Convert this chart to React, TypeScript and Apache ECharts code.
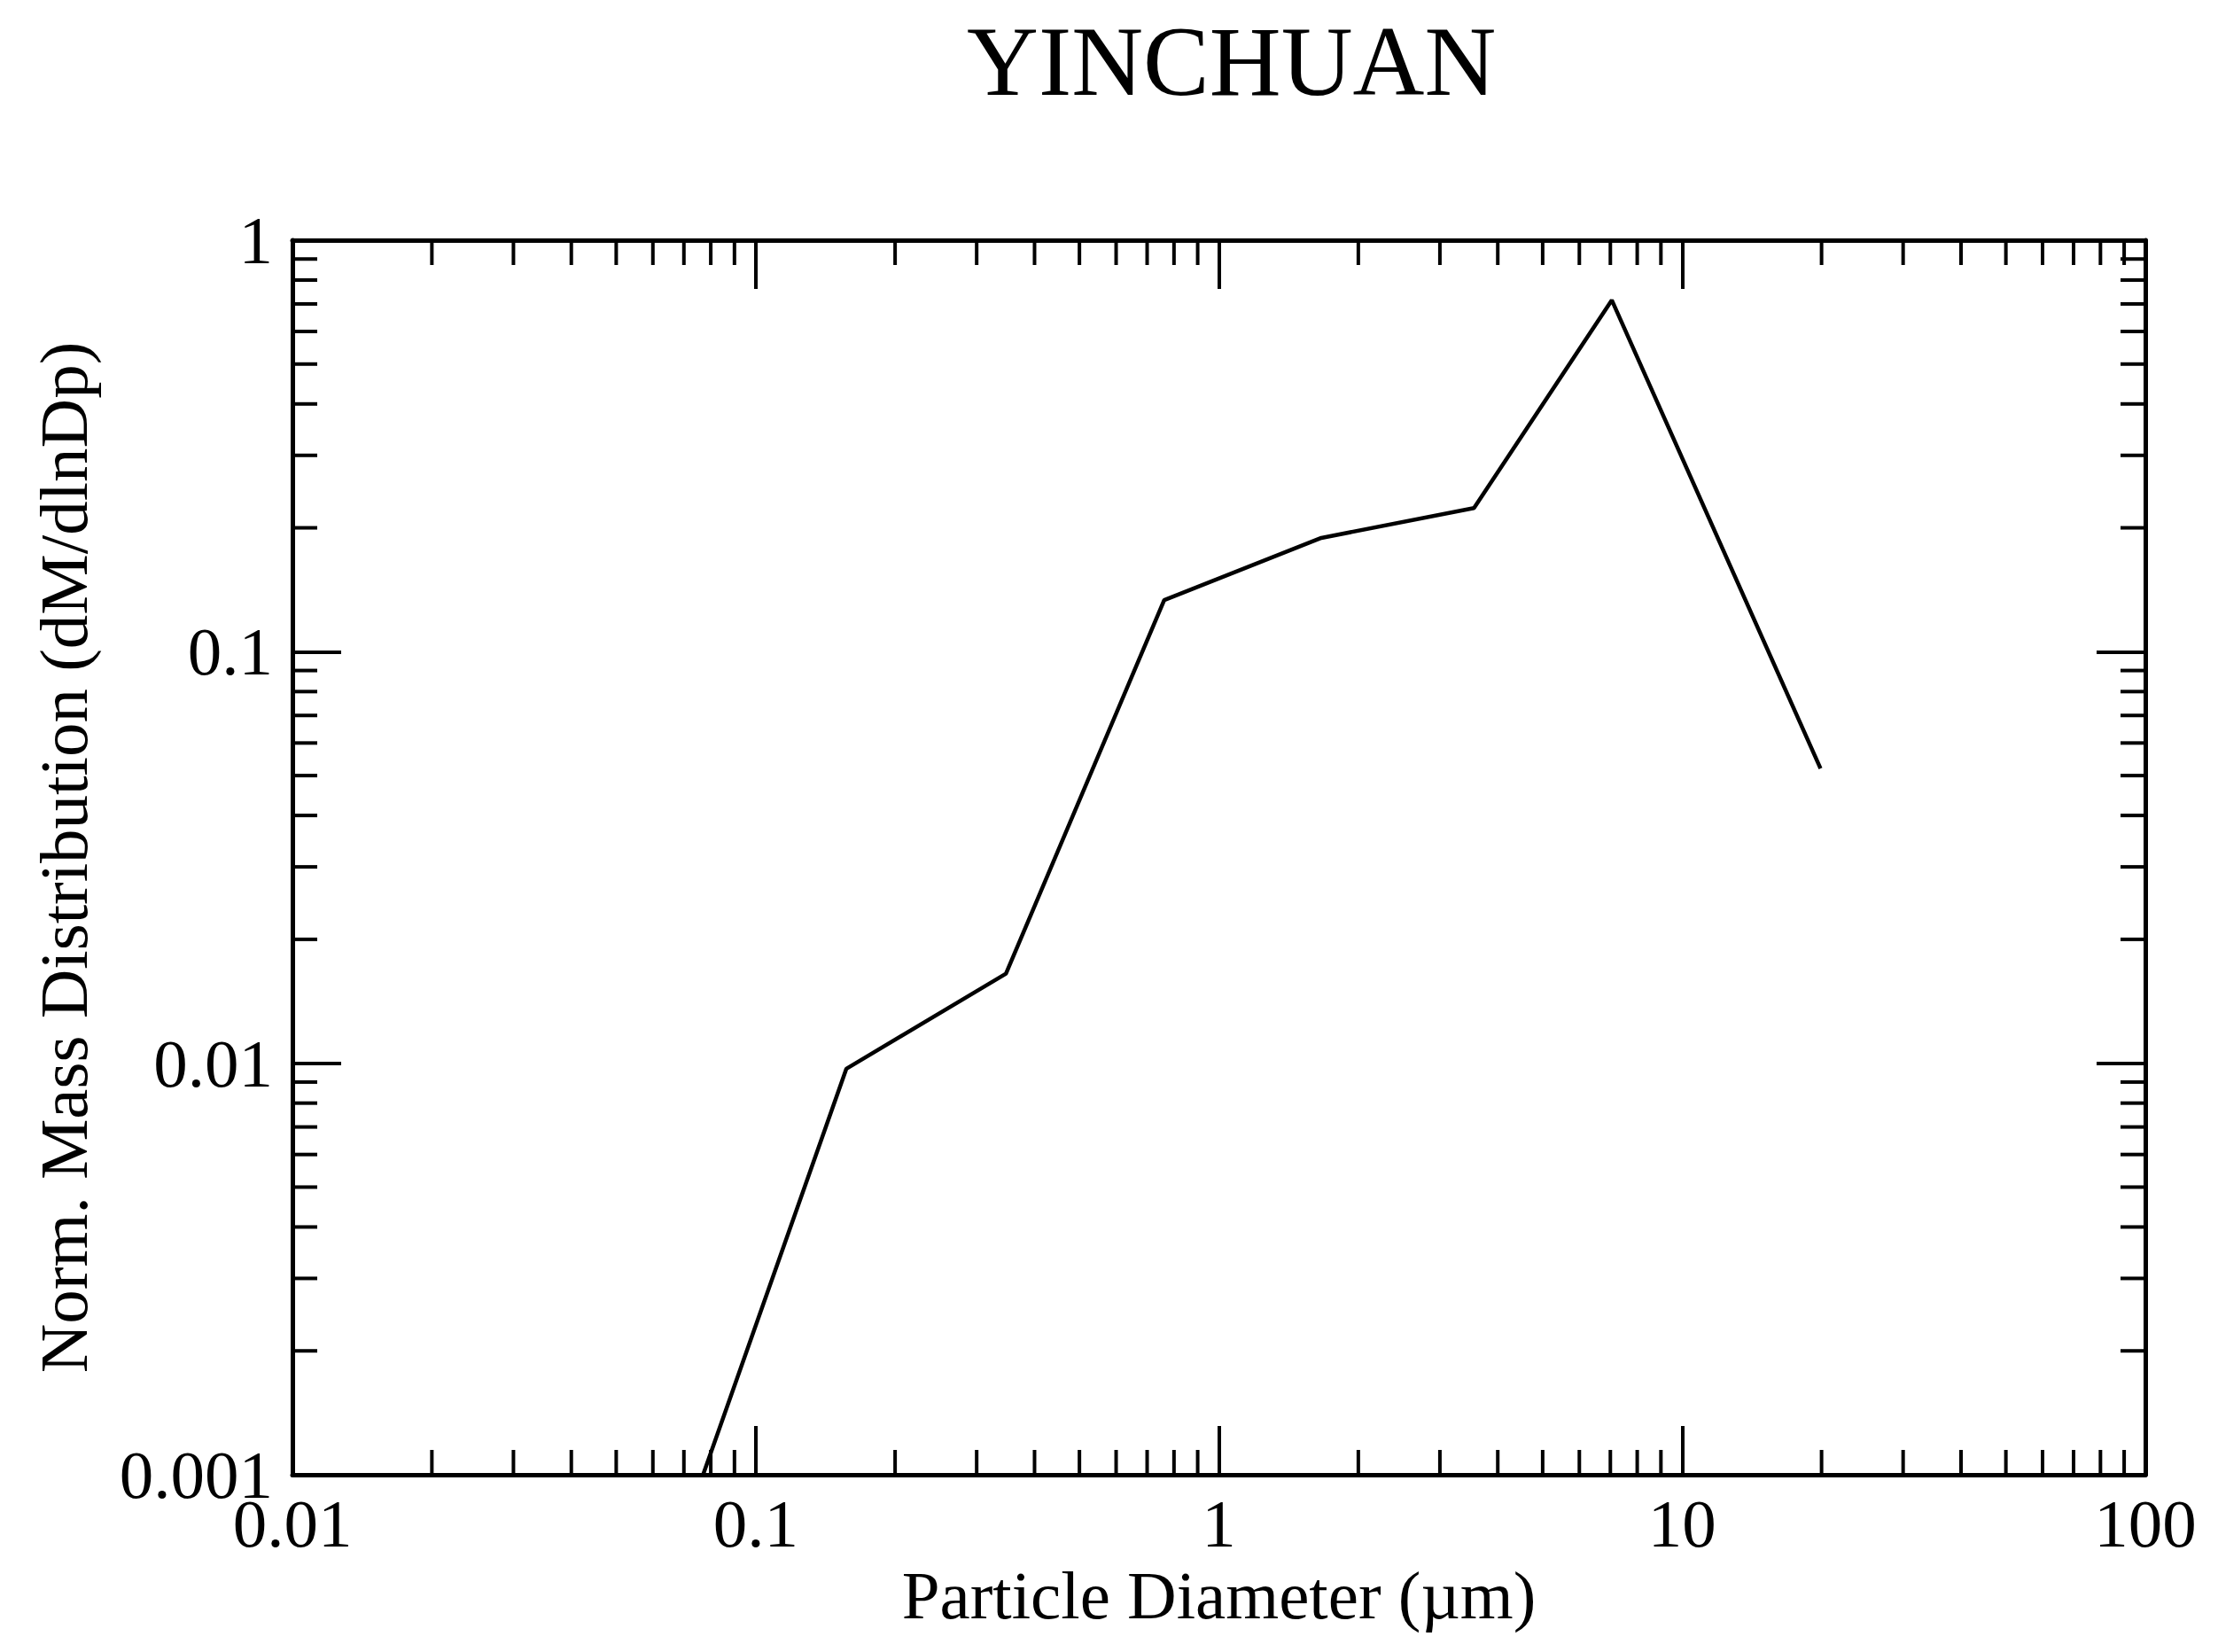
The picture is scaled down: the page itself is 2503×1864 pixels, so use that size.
import React, { useEffect, useRef } from "react";
import * as echarts from "echarts";

const titleText = "YINCHUAN";
const xAxisName = "Particle Diameter (µm)";
const yAxisName = "Norm. Mass Distribution (dM/dlnDp)";

const diameters = [0.077, 0.157, 0.347, 0.762, 1.664, 3.554, 7.05, 19.9];
const massDist = [0.001, 0.0097, 0.0165, 0.1335, 0.189, 0.2233, 0.715, 0.052];

const xMin = 0.01;
const xMax = 100;
const yMin = 0.001;
const yMax = 1;

const xTickLabels = ["0.01", "0.1", "1", "10", "100"];
const yTickLabels = ["0.001", "0.01", "0.1", "1"];

const xMinorTicks = [
  0.02, 0.03, 0.04, 0.05, 0.06, 0.07, 0.08, 0.09,
  0.2, 0.3, 0.4, 0.5, 0.6, 0.7, 0.8, 0.9,
  2, 3, 4, 5, 6, 7, 8, 9,
  20, 30, 40, 50, 60, 70, 80, 90,
];
const yMinorTicks = [
  0.002, 0.003, 0.004, 0.005, 0.006, 0.007, 0.008, 0.009,
  0.02, 0.03, 0.04, 0.05, 0.06, 0.07, 0.08, 0.09,
  0.2, 0.3, 0.4, 0.5, 0.6, 0.7, 0.8, 0.9,
];

const FONT = '"Liberation Serif", "Times New Roman", serif';
const MINOR_LEN = 28;
const MAJOR_LEN = 55;
const TICK_W = 4;

function fmt(labels: string[]) {
  return (v: number) => {
    const found = labels.find((l) => Math.abs(Math.log10(parseFloat(l)) - Math.log10(v)) < 1e-6);
    return found ?? "";
  };
}

export default function App() {
  const ref = useRef<HTMLDivElement>(null);
  useEffect(() => {
    if (!ref.current) return;
    const chart = echarts.init(ref.current, undefined, { renderer: "svg" });
    const axisLine = { show: true, lineStyle: { color: "#000", width: 5 } };
    const majorTick = { show: true, inside: true, length: MAJOR_LEN, lineStyle: { color: "#000", width: TICK_W } };
    chart.setOption({
      animation: false,
      backgroundColor: "#fff",
      title: {
        text: titleText,
        left: 1086,
        top: 8,
        textStyle: { fontFamily: FONT, fontSize: 112, fontWeight: "normal", color: "#000" },
      },
      grid: { left: 330, right: 82, top: 271, bottom: 200 },
      xAxis: [
        {
          type: "log",
          logBase: 10,
          min: xMin,
          max: xMax,
          position: "bottom",
          name: xAxisName,
          nameLocation: "middle",
          nameGap: 96,
          nameTextStyle: { fontFamily: FONT, fontSize: 77, color: "#000" },
          axisLine,
          axisTick: majorTick,
          minorTick: { show: false },
          splitLine: { show: false },
          axisLabel: { fontFamily: FONT, fontSize: 77, color: "#000", margin: 16, formatter: fmt(xTickLabels) },
        },
        {
          type: "log",
          logBase: 10,
          min: xMin,
          max: xMax,
          position: "top",
          axisLine,
          axisTick: majorTick,
          splitLine: { show: false },
          axisLabel: { show: false },
        },
      ],
      yAxis: [
        {
          type: "log",
          logBase: 10,
          min: yMin,
          max: yMax,
          position: "left",
          name: yAxisName,
          nameLocation: "middle",
          nameGap: 220,
          nameTextStyle: { fontFamily: FONT, fontSize: 77, color: "#000" },
          axisLine,
          axisTick: majorTick,
          splitLine: { show: false },
          axisLabel: { fontFamily: FONT, fontSize: 77, color: "#000", margin: 22, formatter: fmt(yTickLabels) },
        },
        {
          type: "log",
          logBase: 10,
          min: yMin,
          max: yMax,
          position: "right",
          axisLine,
          axisTick: majorTick,
          splitLine: { show: false },
          axisLabel: { show: false },
        },
      ],
      series: [
        {
          type: "custom",
          xAxisIndex: 0,
          yAxisIndex: 0,
          silent: true,
          clip: false,
          data: xMinorTicks.map((v) => [v, yMin]),
          renderItem: (params: any, api: any) => {
            const x = api.value(0);
            const b = api.coord([x, yMin]);
            const t = api.coord([x, yMax]);
            const style = { stroke: "#000", lineWidth: TICK_W };
            return {
              type: "group",
              children: [
                { type: "line", shape: { x1: b[0], y1: b[1], x2: b[0], y2: b[1] - MINOR_LEN }, style },
                { type: "line", shape: { x1: t[0], y1: t[1], x2: t[0], y2: t[1] + MINOR_LEN }, style },
              ],
            };
          },
        },
        {
          type: "custom",
          xAxisIndex: 0,
          yAxisIndex: 0,
          silent: true,
          clip: false,
          data: yMinorTicks.map((v) => [xMin, v]),
          renderItem: (params: any, api: any) => {
            const y = api.value(1);
            const l = api.coord([xMin, y]);
            const r = api.coord([xMax, y]);
            const style = { stroke: "#000", lineWidth: TICK_W };
            return {
              type: "group",
              children: [
                { type: "line", shape: { x1: l[0], y1: l[1], x2: l[0] + MINOR_LEN, y2: l[1] }, style },
                { type: "line", shape: { x1: r[0], y1: r[1], x2: r[0] - MINOR_LEN, y2: r[1] }, style },
              ],
            };
          },
        },
        {
          type: "line",
          xAxisIndex: 0,
          yAxisIndex: 0,
          data: diameters.map((d, i) => [d, massDist[i]]),
          showSymbol: false,
          symbol: "none",
          clip: true,
          lineStyle: { color: "#000", width: 4.5 },
        },
      ],
    });
    return () => chart.dispose();
  }, []);
  return (
    <div
      ref={ref}
      style={{ position: "absolute", left: 0, top: 0, width: 2503, height: 1864, background: "#fff" }}
    />
  );
}
